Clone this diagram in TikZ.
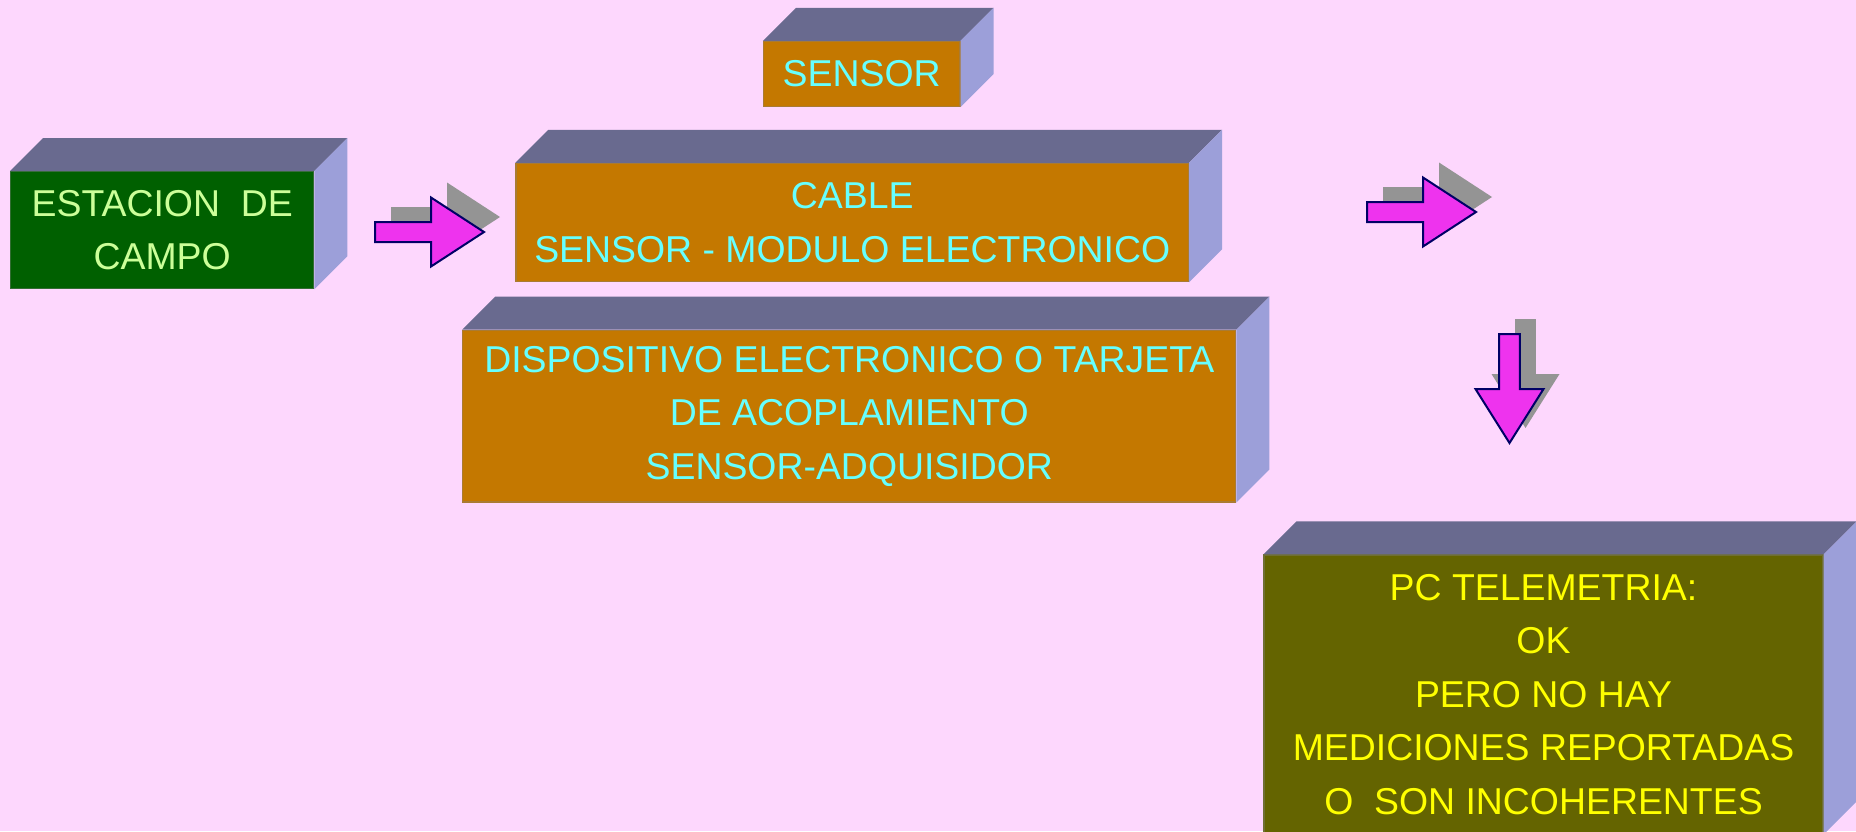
\documentclass[tikz,border=0pt]{standalone}
\usepackage{fontspec}
\setmainfont{Liberation Sans}
\definecolor{bgc}{RGB}{253,215,253}
\definecolor{topc}{RGB}{105,106,143}
\definecolor{sidec}{RGB}{156,159,217}
\definecolor{greenc}{RGB}{0,96,0}
\definecolor{orangec}{RGB}{196,120,0}
\definecolor{olivec}{RGB}{100,100,0}
\definecolor{cyant}{RGB}{102,255,255}
\definecolor{limet}{RGB}{204,255,153}
\definecolor{yellowt}{RGB}{255,255,0}
\definecolor{arrfill}{RGB}{238,51,238}
\definecolor{arrline}{RGB}{0,0,102}
\definecolor{shadowc}{RGB}{148,148,148}
\newcommand\cubefaces[1]{%
  \fill[topc] (#1.north west) -- ++(33,-33) -- ([shift={(33,-33)}]#1.north east) -- (#1.north east) -- cycle;
  \fill[sidec] (#1.north east) -- ++(33,-33) -- ([shift={(33,-33)}]#1.south east) -- (#1.south east) -- cycle;
}
\tikzset{
  box/.style={rectangle, inner sep=0pt, align=center, line width=1.2pt,
    font=\fontsize{37.4}{53.5}\selectfont},
  greenbox/.style={box, fill=greenc, draw=greenc!60!gray, text=limet},
  orangebox/.style={box, fill=orangec, draw=orangec!60!gray, text=cyant},
  olivebox/.style={box, fill=olivec, draw=olivec!60!gray, text=yellowt},
  arrbody/.style={fill=arrfill, draw=arrline, line width=2pt, line join=miter},
  arrshadow/.style={fill=shadowc},
  rarr/.pic={
    \fill[arrshadow] (16,-25) -- (72,-25) -- (72,-49.5) -- (125,-15) -- (72,19.5) -- (72,-5) -- (16,-5) -- cycle;
    \draw[arrbody] (0,-10) -- (56,-10) -- (56,-34.5) -- (109,0) -- (56,34.5) -- (56,10) -- (0,10) -- cycle;
  },
  darr/.pic={
    \fill[arrshadow] (5.7,-15) -- (26.3,-15) -- (26.3,40) -- (50,40) -- (16,94) -- (-18,40) -- (5.7,40) -- cycle;
    \draw[arrbody] (-10.3,0) -- (10.3,0) -- (10.3,55) -- (34,55) -- (0,109) -- (-34,55) -- (-10.3,55) -- cycle;
  }
}
\begin{document}
\begin{tikzpicture}[x=1pt,y=-1pt]
\useasboundingbox (0,0) rectangle (1856,831);
\clip (0,0) rectangle (1856,831);
\fill[bgc] (0,0) rectangle (1856,831);

\node[greenbox, minimum width=303pt, minimum height=117pt] (est) at (162.2,230.2) {ESTACION\ \ DE\\CAMPO};
\node[orangebox, minimum width=196.5pt, minimum height=65pt] (sensor) at (861.7,74) {SENSOR};
\node[orangebox, minimum width=672.4pt, minimum height=118.3pt] (cable) at (852.2,222.5) {CABLE\\SENSOR - MODULO ELECTRONICO};
\node[orangebox, minimum width=773pt, minimum height=171.6pt] (disp) at (849.3,416.1) {DISPOSITIVO ELECTRONICO O TARJETA\\DE ACOPLAMIENTO\\SENSOR-ADQUISIDOR};
\node[olivebox, minimum width=559pt, minimum height=279pt] (pc) at (1543.5,694.5) {PC TELEMETRIA:\\OK\\PERO NO HAY\\MEDICIONES REPORTADAS\\O\ \ SON INCOHERENTES};

\cubefaces{est}
\cubefaces{sensor}
\cubefaces{cable}
\cubefaces{disp}
\cubefaces{pc}

\coordinate (a1) at (375,232);
\coordinate (a2) at (1367,212);
\coordinate (a3) at (1509.5,334);
\pic at (a1) {rarr};
\pic at (a2) {rarr};
\pic at (a3) {darr};
\end{tikzpicture}
\end{document}
